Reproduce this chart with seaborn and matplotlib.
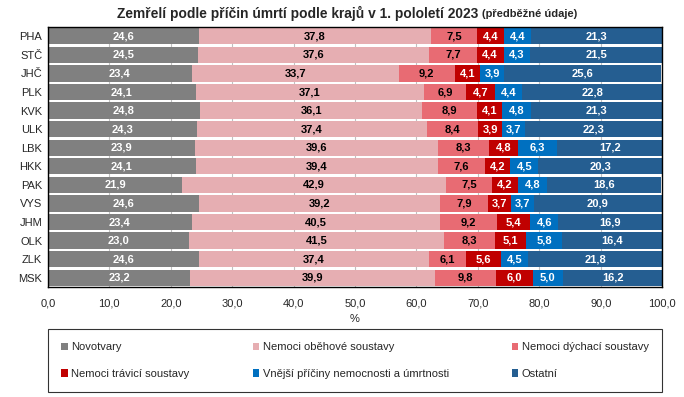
import matplotlib.pyplot as plt
import pandas as pd
import seaborn as sns
from matplotlib.patches import Patch

sns.set_theme(style="white")
plt.rcParams["font.family"] = ["Liberation Sans Narrow", "Liberation Sans", "DejaVu Sans"]

# Data (percent shares by region)
regions = ["PHA", "STČ", "JHČ", "PLK", "KVK", "ULK", "LBK", "HKK", "PAK", "VYS", "JHM", "OLK", "ZLK", "MSK"]
novotvary = [24.6, 24.5, 23.4, 24.1, 24.8, 24.3, 23.9, 24.1, 21.9, 24.6, 23.4, 23.0, 24.6, 23.2]
obehove = [37.8, 37.6, 33.7, 37.1, 36.1, 37.4, 39.6, 39.4, 42.9, 39.2, 40.5, 41.5, 37.4, 39.9]
dychaci = [7.5, 7.7, 9.2, 6.9, 8.9, 8.4, 8.3, 7.6, 7.5, 7.9, 9.2, 8.3, 6.1, 9.8]
travici = [4.4, 4.4, 4.1, 4.7, 4.1, 3.9, 4.8, 4.2, 4.2, 3.7, 5.4, 5.1, 5.6, 6.0]
vnejsi = [4.4, 4.3, 3.9, 4.4, 4.8, 3.7, 6.3, 4.5, 4.8, 3.7, 4.6, 5.8, 4.5, 5.0]
ostatni = [21.3, 21.5, 25.6, 22.8, 21.3, 22.3, 17.2, 20.3, 18.6, 20.9, 16.9, 16.4, 21.8, 16.2]

series = ["Novotvary", "Nemoci oběhové soustavy", "Nemoci dýchací soustavy",
          "Nemoci trávicí soustavy", "Vnější příčiny nemocnosti a úmrtnosti", "Ostatní"]
colors = ["#808080", "#E6AEB2", "#E86B73", "#C00000", "#0070C0", "#255E91"]
label_colors = ["white", "black", "black", "white", "white", "white"]

df = pd.DataFrame({"region": regions})
for name, vals in zip(series, [novotvary, obehove, dychaci, travici, vnejsi, ostatni]):
    df[name] = vals
cum = df[series].cumsum(axis=1)

fig = plt.figure(figsize=(6.84, 3.97), dpi=100)
ax = fig.add_axes([0.070, 0.277, 0.898, 0.655])

# stacked bars: draw cumulative totals from the last series backwards
for name, col in reversed(list(zip(series, colors))):
    plot_df = pd.DataFrame({"region": regions, "val": cum[name]})
    sns.barplot(data=plot_df, x="val", y="region", color=col, saturation=1,
                width=0.88, linewidth=0, ax=ax, zorder=2)

# value labels
for i, r in enumerate(regions):
    left = 0
    for name, lc in zip(series, label_colors):
        v = df.loc[i, name]
        ax.text(left + v / 2, i, f"{v:.1f}".replace(".", ","), ha="center", va="center",
                color=lc, fontsize=8, fontweight="bold", zorder=3)
        left += v

ax.set_xlim(0, 100)
ax.set_ylim(len(regions) - 0.5, -0.5)
ax.set_xticks(range(0, 101, 10))
ax.set_xticklabels([f"{t},0" for t in range(0, 101, 10)], fontsize=8)
ax.tick_params(axis="y", labelsize=8, length=0, pad=4)
ax.tick_params(axis="x", length=0, pad=8)
ax.set_ylabel("")
ax.set_xlabel("%", fontsize=8, labelpad=4)
ax.grid(axis="x", color="#C0C0C0", linewidth=0.8, zorder=0)
ax.set_axisbelow(True)
for s in ax.spines.values():
    s.set_color("black")
    s.set_linewidth(1.0)

# title
fig.text(0.700, 0.967, "Zemřelí podle příčin úmrtí podle krajů v 1. pololetí 2023",
         ha="right", va="center", fontsize=9.9, fontweight="bold")
fig.text(0.705, 0.964, "(předběžné údaje)", ha="left", va="center",
         fontsize=8, fontweight="bold")

# legend (row-wise order in 3 columns)
handles = [Patch(facecolor=c, edgecolor="none") for c in colors]
order = [0, 3, 1, 4, 2, 5]
leg = fig.legend([handles[i] for i in order], [series[i] for i in order],
                 loc="lower left", bbox_to_anchor=(0.070, 0.012, 0.898, 0.155),
                 mode="expand", ncol=3, fontsize=8, frameon=True, fancybox=False,
                 handlelength=0.6, handleheight=0.6, handletextpad=0.3,
                 borderaxespad=0, labelspacing=1.5, borderpad=1.2)
leg.get_frame().set_edgecolor("black")
leg.get_frame().set_linewidth(0.8)

fig.savefig("out.png", dpi=100)
